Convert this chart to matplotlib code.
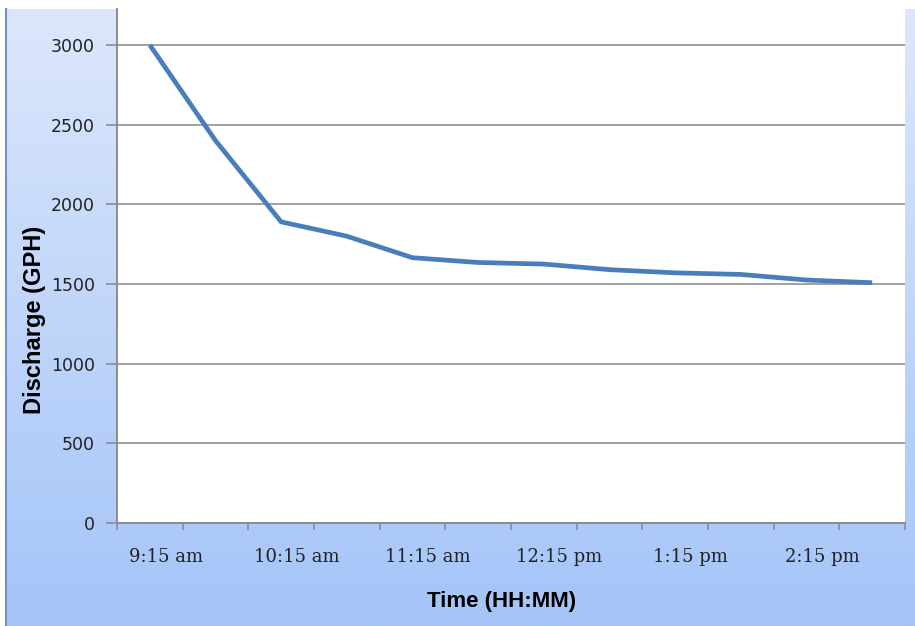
import numpy as np
import matplotlib
matplotlib.use("Agg")
import matplotlib.pyplot as plt
from matplotlib.lines import Line2D

# data
times = ["9:15 am", "9:45 am", "10:15 am", "10:45 am", "11:15 am", "11:45 am",
         "12:15 pm", "12:45 pm", "1:15 pm", "1:45 pm", "2:15 pm", "2:45 pm"]
discharge = [3000, 2400, 1890, 1800, 1665, 1635, 1625, 1590, 1570, 1560, 1525, 1508]
shown_labels = ["9:15 am", "10:15 am", "11:15 am", "12:15 pm", "1:15 pm", "2:15 pm"]
y_ticks = [0, 500, 1000, 1500, 2000, 2500, 3000]

W, H = 915, 626
fig = plt.figure(figsize=(W / 100, H / 100), dpi=100)
fig.patch.set_facecolor("white")

# gradient background of the chart area (top is cropped)
bg = fig.add_axes([7 / W, 0, 1 - 7 / W, 617 / H])
top = np.array([220, 231, 252]) / 255
bot = np.array([164, 196, 248]) / 255
t = np.linspace(0, 1, 256)[:, None]
grad = (top[None, :] * (1 - t) + bot[None, :] * t)[:, None, :]
bg.imshow(grad, aspect="auto", extent=[0, 1, 0, 1])
bg.set_axis_off()
fig.add_artist(Line2D([6 / W, 6 / W], [0, 617 / H], color="#7391c4", lw=1.5))

ax = fig.add_axes([117 / W, 103 / H, 788 / W, 514 / H])
ax.set_facecolor("white")
x = np.arange(len(times))
ax.plot(x, discharge, color="#4a7ebb", lw=3.4, solid_capstyle="butt", zorder=3)

ax.set_xlim(-0.5, len(times) - 0.5)
ax.set_ylim(0, 3000 + 36 / (478 / 3000))
ax.set_yticks(y_ticks)
ax.set_yticklabels([str(v) for v in y_ticks])
ax.grid(axis="y", color="#909090", lw=1.2)
ax.set_axisbelow(True)

# category boundaries as major ticks, labels as minor ticks (offset like the original)
ax.set_xticks(np.arange(-0.5, len(times), 1.0))
ax.set_xticklabels([])
lab_pos = [times.index(s) + 0.24 for s in shown_labels]
ax.set_xticks(lab_pos, minor=True)
ax.set_xticklabels(shown_labels, minor=True, family="DejaVu Serif", fontsize=13, color="#222222")
ax.tick_params(axis="x", which="major", length=5, width=1.2, color="#8c8c8c", direction="out")
ax.tick_params(axis="x", which="minor", length=0, pad=18)
ax.tick_params(axis="y", length=8, width=1.2, color="#8c8c8c", pad=8, labelsize=12.5, labelcolor="#222222")

for s in ["top", "right"]:
    ax.spines[s].set_visible(False)
for s in ["left", "bottom"]:
    ax.spines[s].set_color("#8c8c8c")
    ax.spines[s].set_linewidth(1.4)

ax.set_xlabel("Time (HH:MM)", fontsize=16, fontweight="bold", family="Liberation Sans", va="center")
ax.xaxis.set_label_coords((502 - 117) / 788, -(601 - 523) / 514)
ax.set_ylabel("Discharge (GPH)", fontsize=17, fontweight="bold", family="Liberation Sans", va="center")
ax.yaxis.set_label_coords((35 - 117) / 788, (523 - 320) / 514)

fig.savefig("out.png", dpi=100)
